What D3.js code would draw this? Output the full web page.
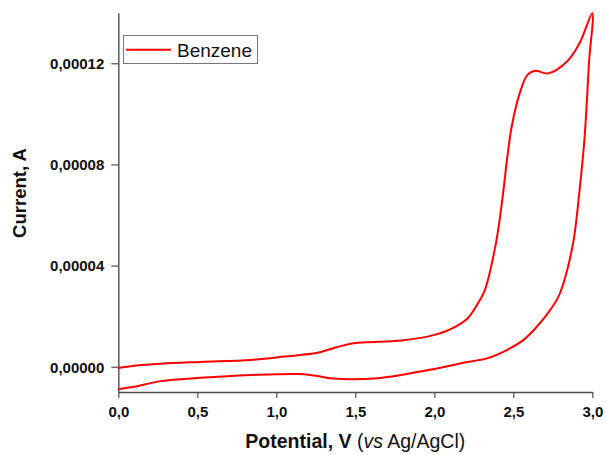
<!DOCTYPE html>
<html>
<head>
<meta charset="utf-8">
<script src="https://cdn.jsdelivr.net/npm/d3@7/dist/d3.min.js"></script>
<style>
  html, body { margin: 0; padding: 0; background: #fff; }
  svg { display: block; font-family: "Liberation Sans", Arial, sans-serif; }
</style>
</head>
<body>
<svg id="chart" width="606" height="455"></svg>
<script>
// Cyclic voltammogram of benzene: forward (anodic) sweep 0 → 3 V, then reverse sweep 3 → 0 V
const forwardPotential = [0.00, 0.10, 0.27, 0.52, 0.84, 1.05, 1.26, 1.38, 1.49, 1.57, 1.79, 1.97, 2.10, 2.21, 2.27, 2.32, 2.39, 2.43, 2.46, 2.49, 2.54, 2.59, 2.64, 2.72, 2.84, 2.92, 3.00];
const forwardCurrent   = [-0.05e-5, 0.04e-5, 0.12e-5, 0.19e-5, 0.27e-5, 0.40e-5, 0.55e-5, 0.77e-5, 0.93e-5, 0.97e-5, 1.04e-5, 1.21e-5, 1.48e-5, 1.91e-5, 2.44e-5, 3.03e-5, 4.88e-5, 6.59e-5, 8.18e-5, 9.50e-5, 10.8e-5, 11.54e-5, 11.70e-5, 11.60e-5, 12.07e-5, 12.80e-5, 13.98e-5];

const reversePotential = [3.00, 2.98, 2.95, 2.913, 2.899, 2.882, 2.83, 2.786, 2.733, 2.649, 2.565, 2.459, 2.333, 2.185, 2.04, 1.89, 1.79, 1.64, 1.47, 1.36, 1.26, 1.15, 0.84, 0.52, 0.27, 0.10, 0.00];
const reverseCurrent   = [13.98e-5, 12.1e-5, 8.97e-5, 6.59e-5, 5.80e-5, 5.01e-5, 3.56e-5, 2.77e-5, 2.24e-5, 1.58e-5, 1.06e-5, 0.66e-5, 0.33e-5, 0.16e-5, -0.04e-5, -0.21e-5, -0.33e-5, -0.46e-5, -0.50e-5, -0.47e-5, -0.37e-5, -0.29e-5, -0.33e-5, -0.44e-5, -0.57e-5, -0.79e-5, -0.88e-5];

const xTicks = [0, 0.5, 1.0, 1.5, 2.0, 2.5, 3.0];
const xMinorTicks = [0.25, 0.75, 1.25, 1.75, 2.25, 2.75];
const yTicks = [0, 0.00004, 0.00008, 0.00012];
const yMinorTicks = [-0.00001, 0.00002, 0.00006, 0.00010, 0.00014];

const seriesName = "Benzene";
const xTitleBold = "Potential, V ";
const xTitleItalic = "vs";
const xTitleRest = " Ag/AgCl)";
const yTitle = "Current, A";

const svg = d3.select("#chart");
const x = d3.scaleLinear().domain([0, 3]).range([118.3, 592.3]);
const y = d3.scaleLinear().domain([-0.00001, 0.00014]).range([392, 12.7]);

const comma = s => s.replace(".", ",");
const axisColor = "#4d4d4d";
const labelColor = "#111";

// Bottom axis: minor ticks first, then major ticks with labels
const gx = svg.append("g").attr("transform", `translate(0,${y.range()[0]})`);
gx.call(d3.axisBottom(x).tickValues(xMinorTicks).tickSize(3).tickFormat(""));
gx.call(d3.axisBottom(x).tickValues(xTicks).tickSize(6).tickSizeOuter(0)
  .tickFormat(d => comma(d3.format(".1f")(d))));
gx.selectAll(".domain").attr("stroke", axisColor).attr("stroke-width", 1.4);
gx.selectAll(".tick line").attr("stroke", axisColor).attr("stroke-width", 1.2);
gx.selectAll(".tick text")
  .attr("y", 25).attr("dy", 0)
  .attr("fill", labelColor)
  .style("font-size", "15px").style("font-weight", "bold");

// Left axis
const gy = svg.append("g").attr("transform", `translate(${x.range()[0]},0)`);
gy.call(d3.axisLeft(y).tickValues(yMinorTicks).tickSize(4).tickFormat(""));
gy.call(d3.axisLeft(y).tickValues(yTicks).tickSize(7).tickSizeOuter(0)
  .tickFormat(d => comma(d3.format(".5f")(d))));
gy.selectAll(".domain").attr("stroke", axisColor).attr("stroke-width", 1.4);
gy.selectAll(".tick line").attr("stroke", axisColor).attr("stroke-width", 1.2);
gy.selectAll(".tick text")
  .attr("x", -14).attr("dy", "0.36em")
  .attr("fill", labelColor)
  .style("font-size", "15px").style("font-weight", "bold");

// Voltammogram trace: forward sweep followed by reverse sweep
const points = forwardPotential.map((v, i) => [v, forwardCurrent[i]])
  .concat(reversePotential.slice(1).map((v, i) => [v, reverseCurrent[i + 1]]));
const line = d3.line()
  .x(d => x(d[0]))
  .y(d => y(d[1]))
  .curve(d3.curveCatmullRom.alpha(0.5));
svg.append("path")
  .datum(points)
  .attr("d", line)
  .attr("fill", "none")
  .attr("stroke", "#ff0000")
  .attr("stroke-width", 2)
  .attr("stroke-linejoin", "round");

// Axis titles
const xt = svg.append("text")
  .attr("x", (x.range()[0] + x.range()[1]) / 2)
  .attr("y", 448)
  .attr("text-anchor", "middle")
  .attr("fill", labelColor)
  .style("font-size", "19.5px");
xt.append("tspan").style("font-weight", "bold").text(xTitleBold);
xt.append("tspan").text("(");
xt.append("tspan").style("font-style", "italic").text(xTitleItalic);
xt.append("tspan").text(xTitleRest);

svg.append("text")
  .attr("transform", "translate(26,193) rotate(-90)")
  .attr("text-anchor", "middle")
  .attr("fill", labelColor)
  .style("font-size", "18.5px").style("font-weight", "bold")
  .text(yTitle);

// Legend
const lg = svg.append("g");
lg.append("rect")
  .attr("x", 123.5).attr("y", 35.5).attr("width", 134).attr("height", 28)
  .attr("fill", "#fff").attr("stroke", "#777").attr("stroke-width", 1);
lg.append("line")
  .attr("x1", 126).attr("x2", 171).attr("y1", 49.7).attr("y2", 49.7)
  .attr("stroke", "#ff0000").attr("stroke-width", 2);
lg.append("text")
  .attr("x", 177).attr("y", 56.7)
  .attr("fill", labelColor)
  .style("font-size", "19px")
  .text(seriesName);
</script>
</body>
</html>
